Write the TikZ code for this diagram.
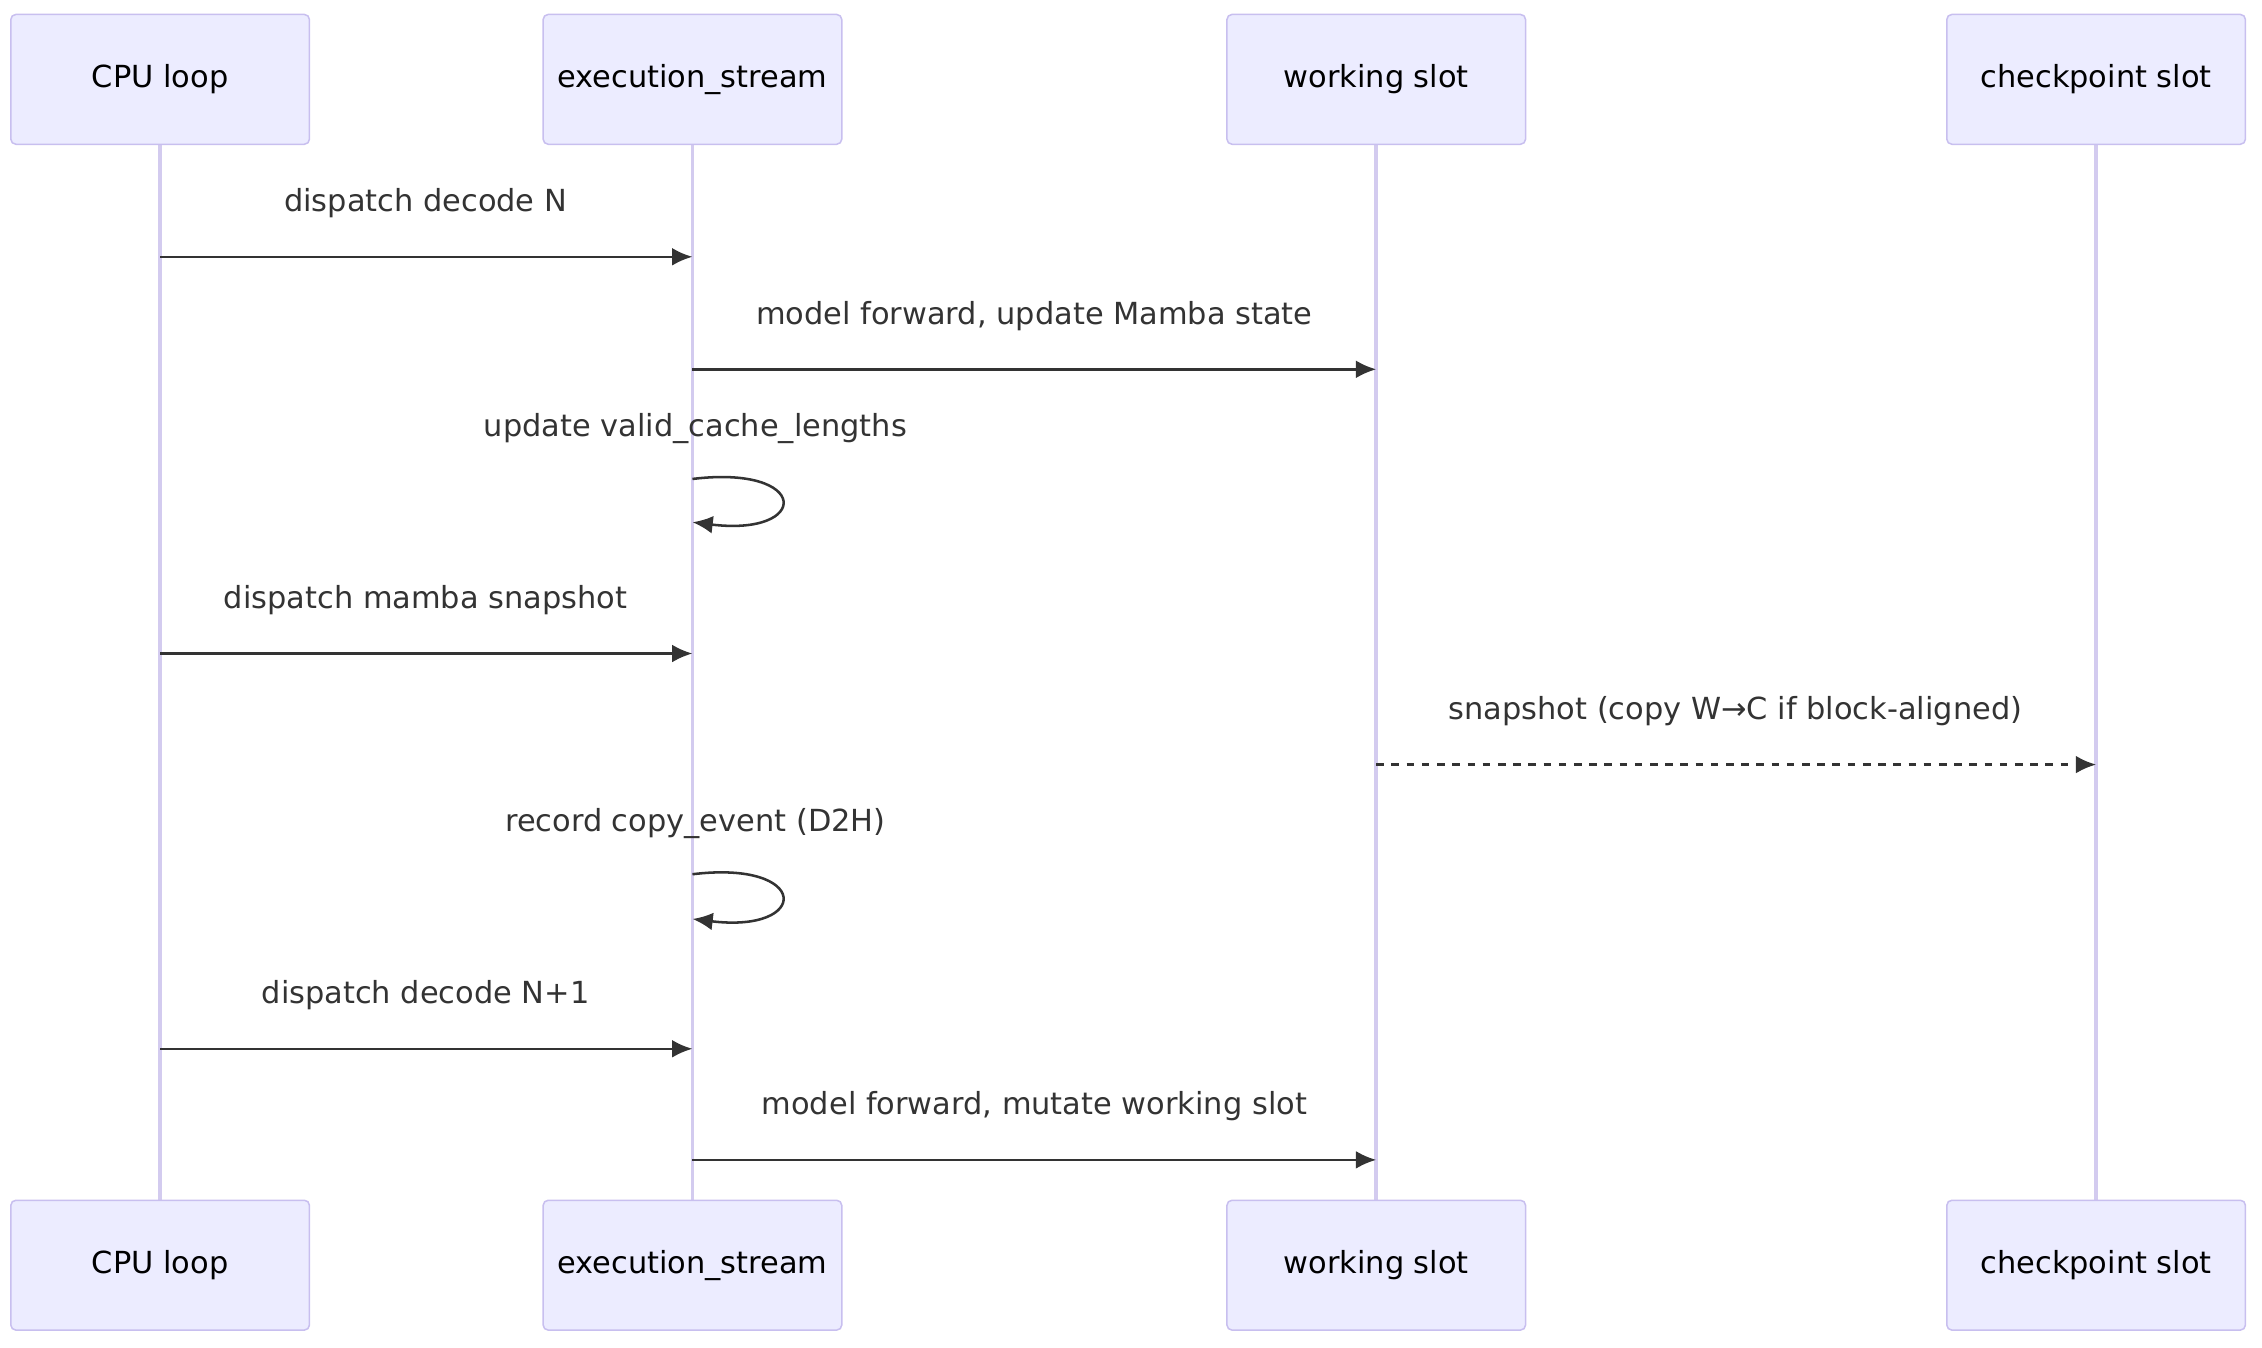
\documentclass[tikz,border=0pt]{standalone}
\usepackage{fontspec}
\setmainfont{DejaVu Sans}
\usetikzlibrary{arrows.meta}
\definecolor{actfill}{HTML}{ECECFF}
\definecolor{actline}{HTML}{C8BFEF}
\definecolor{lifeline}{HTML}{D3CBEF}
\definecolor{msgline}{HTML}{333333}
\tikzset{
  actor/.style = {draw = actline, fill = actfill, rounded corners = 2pt, minimum width = 207*0.02cm,
                  minimum height = 90*0.02cm, font = \fontsize{12}{14}\selectfont, line width = 0.6pt},
  msg/.style = {draw = msgline, line width = 1pt, -{Latex[length=8pt,width=7pt]}},
  lbl/.style = {font = \fontsize{12}{14}\selectfont, text = msgline}
}
\begin{document}
\begin{tikzpicture}[x = 0.02cm, y = -0.02cm]
\useasboundingbox (0,0) rectangle (1568,934);
% actors, top and bottom
\foreach \name/\x/\txt in {cpu/111/CPU loop, exe/480/execution\_stream, work/954/working slot, chk/1453/checkpoint slot}
{
    \draw [lifeline, line width = 1.4pt] (\x,100) -- (\x,832);
    \node [actor] (\name top) at (\x,55) {\txt};
    \node [actor] (\name bot) at (\x,877) {\txt};
}
% messages
\coordinate (c1) at (111,178); \coordinate (e1) at (480,178);
\draw [msg] (c1) -- (e1);
\node [lbl] (l1) at (295,141) {dispatch decode N};
\coordinate (e2) at (480,256); \coordinate (w2) at (954,256);
\draw [msg] (e2) -- (w2);
\node [lbl] (l2) at (717,219) {model forward, update Mamba state};
\coordinate (e3) at (480,332); \coordinate (e3b) at (480,362);
\draw [msg] (e3) .. controls (562,322) and (562,372) .. (e3b);
\node [lbl] (l3) at (482,297) {update valid\_cache\_lengths};
\coordinate (c4) at (111,453); \coordinate (e4) at (480,453);
\draw [msg] (c4) -- (e4);
\node [lbl] (l4) at (295,416) {dispatch mamba snapshot};
\coordinate (w5) at (954,530); \coordinate (k5) at (1453,530);
\draw [msg, dash pattern = on 3pt off 3pt] (w5) -- (k5);
\node [lbl] (l5) at (1203,493) {snapshot (copy W→C if block-aligned)};
\coordinate (e6) at (480,606); \coordinate (e6b) at (480,637);
\draw [msg] (e6) .. controls (562,596) and (562,647) .. (e6b);
\node [lbl] (l6) at (482,571) {record copy\_event (D2H)};
\coordinate (c7) at (111,727); \coordinate (e7) at (480,727);
\draw [msg] (c7) -- (e7);
\node [lbl] (l7) at (295,690) {dispatch decode N+1};
\coordinate (e8) at (480,804); \coordinate (w8) at (954,804);
\draw [msg] (e8) -- (w8);
\node [lbl] (l8) at (717,767) {model forward, mutate working slot};
\end{tikzpicture}
\end{document}
